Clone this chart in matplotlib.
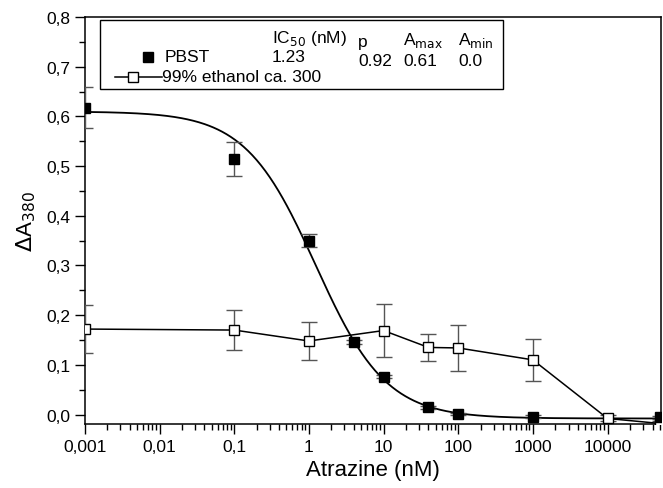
#!/usr/bin/env python3
import numpy as np
import matplotlib
matplotlib.use('Agg')
import matplotlib.pyplot as plt
from matplotlib.patches import Rectangle
from matplotlib.ticker import FixedLocator, LogLocator, NullFormatter, MultipleLocator

plt.rcParams['font.family'] = ['Liberation Sans', 'DejaVu Sans']

# PBST (filled squares)
pbst_x = [0.001, 0.1, 1, 4, 10, 40, 100, 1000, 50000]
pbst_y = [0.618, 0.514, 0.350, 0.146, 0.076, 0.015, 0.001, -0.005, -0.006]
pbst_err = [0.041, 0.034, 0.013, 0.004, 0.003, 0.003, 0.003, 0.003, 0.003]

# 99% ethanol (open squares)
eth_x = [0.001, 0.1, 1, 10, 40, 100, 1000, 10000, 50000]
eth_y = [0.172, 0.170, 0.148, 0.169, 0.135, 0.134, 0.110, -0.008, -0.018]
eth_err = [0.049, 0.041, 0.039, 0.054, 0.028, 0.047, 0.042, 0.006, 0.004]

# logistic fit parameters (PBST)
ic50, p_slope, a_max, a_min = 1.23, 0.92, 0.61, -0.008

xticks = [0.001, 0.01, 0.1, 1, 10, 100, 1000, 10000]
xticklabels = ['0,001', '0,01', '0,1', '1', '10', '100', '1000', '10000']
yticks = [0.0, 0.1, 0.2, 0.3, 0.4, 0.5, 0.6, 0.7, 0.8]
yticklabels = ['0,0', '0,1', '0,2', '0,3', '0,4', '0,5', '0,6', '0,7', '0,8']

fig = plt.figure(figsize=(6.63, 4.89), dpi=100)
ax = fig.add_axes([0.128, 0.131, 0.869, 0.832])

xf = np.logspace(-3, np.log10(5.2e4), 400)
yf = a_min + (a_max - a_min) / (1 + (xf / ic50) ** p_slope)
ax.plot(xf, yf, color='black', lw=1.3, zorder=3)

ax.errorbar(eth_x, eth_y, yerr=eth_err, fmt='s-', color='black', lw=1.1,
            mfc='white', mec='black', ms=7.5, mew=1.0, ecolor='#555555',
            elinewidth=1.0, capsize=6, capthick=1.0, zorder=4)
ax.errorbar(pbst_x, pbst_y, yerr=pbst_err, fmt='s', color='black',
            mfc='black', mec='black', ms=7.5, ecolor='#555555',
            elinewidth=1.0, capsize=6, capthick=1.0, zorder=5)

ax.set_xscale('log')
ax.set_xlim(1e-3, 5.2e4)
ax.set_ylim(-0.019, 0.8)
ax.xaxis.set_major_locator(FixedLocator(xticks))
ax.set_xticklabels(xticklabels)
ax.xaxis.set_minor_locator(LogLocator(base=10, subs=np.arange(2, 10)))
ax.xaxis.set_minor_formatter(NullFormatter())
ax.set_yticks(yticks)
ax.set_yticklabels(yticklabels)
ax.yaxis.set_minor_locator(MultipleLocator(0.05))
ax.tick_params(axis='both', which='major', direction='out', length=7,
               width=1.0, labelsize=12.5, top=False, right=False)
ax.tick_params(axis='both', which='minor', direction='out', length=4,
               width=1.0, top=False, right=False)
for s in ax.spines.values():
    s.set_linewidth(1.1)

ax.set_xlabel('Atrazine (nM)', fontsize=16, labelpad=4)
ax.set_ylabel(r'$\Delta$A$_{380}$', fontsize=16, labelpad=6)

# legend box with parameter table
tr = ax.transAxes
ax.add_patch(Rectangle((0.026, 0.823), 0.70, 0.170, transform=tr,
                       fill=True, fc='white', ec='black', lw=1.0, zorder=6))
fs = 12.5
ax.text(0.325, 0.951, r'IC$_{50}$ (nM)', transform=tr, fontsize=fs, va='center', zorder=7)
ax.text(0.474, 0.940, 'p', transform=tr, fontsize=fs, va='center', zorder=7)
ax.text(0.552, 0.945, r'A$_{\rm max}$', transform=tr, fontsize=fs, va='center', zorder=7)
ax.text(0.648, 0.945, r'A$_{\rm min}$', transform=tr, fontsize=fs, va='center', zorder=7)
ax.plot([0.109], [0.902], 's', color='black', ms=7, transform=tr, zorder=7, clip_on=False)
ax.text(0.139, 0.902, 'PBST', transform=tr, fontsize=fs, va='center', zorder=7)
ax.text(0.325, 0.902, '1.23', transform=tr, fontsize=fs, va='center', zorder=7)
ax.text(0.474, 0.893, '0.92', transform=tr, fontsize=fs, va='center', zorder=7)
ax.text(0.552, 0.893, '0.61', transform=tr, fontsize=fs, va='center', zorder=7)
ax.text(0.648, 0.893, '0.0', transform=tr, fontsize=fs, va='center', zorder=7)
ax.plot([0.052, 0.134], [0.853, 0.853], '-', color='black', lw=1.1, transform=tr, zorder=7)
ax.plot([0.084], [0.853], 's', mfc='white', mec='black', ms=7, transform=tr, zorder=8)
ax.text(0.134, 0.853, '99% ethanol ca. 300', transform=tr, fontsize=fs, va='center', zorder=7)

fig.savefig('out.png', dpi=100)
